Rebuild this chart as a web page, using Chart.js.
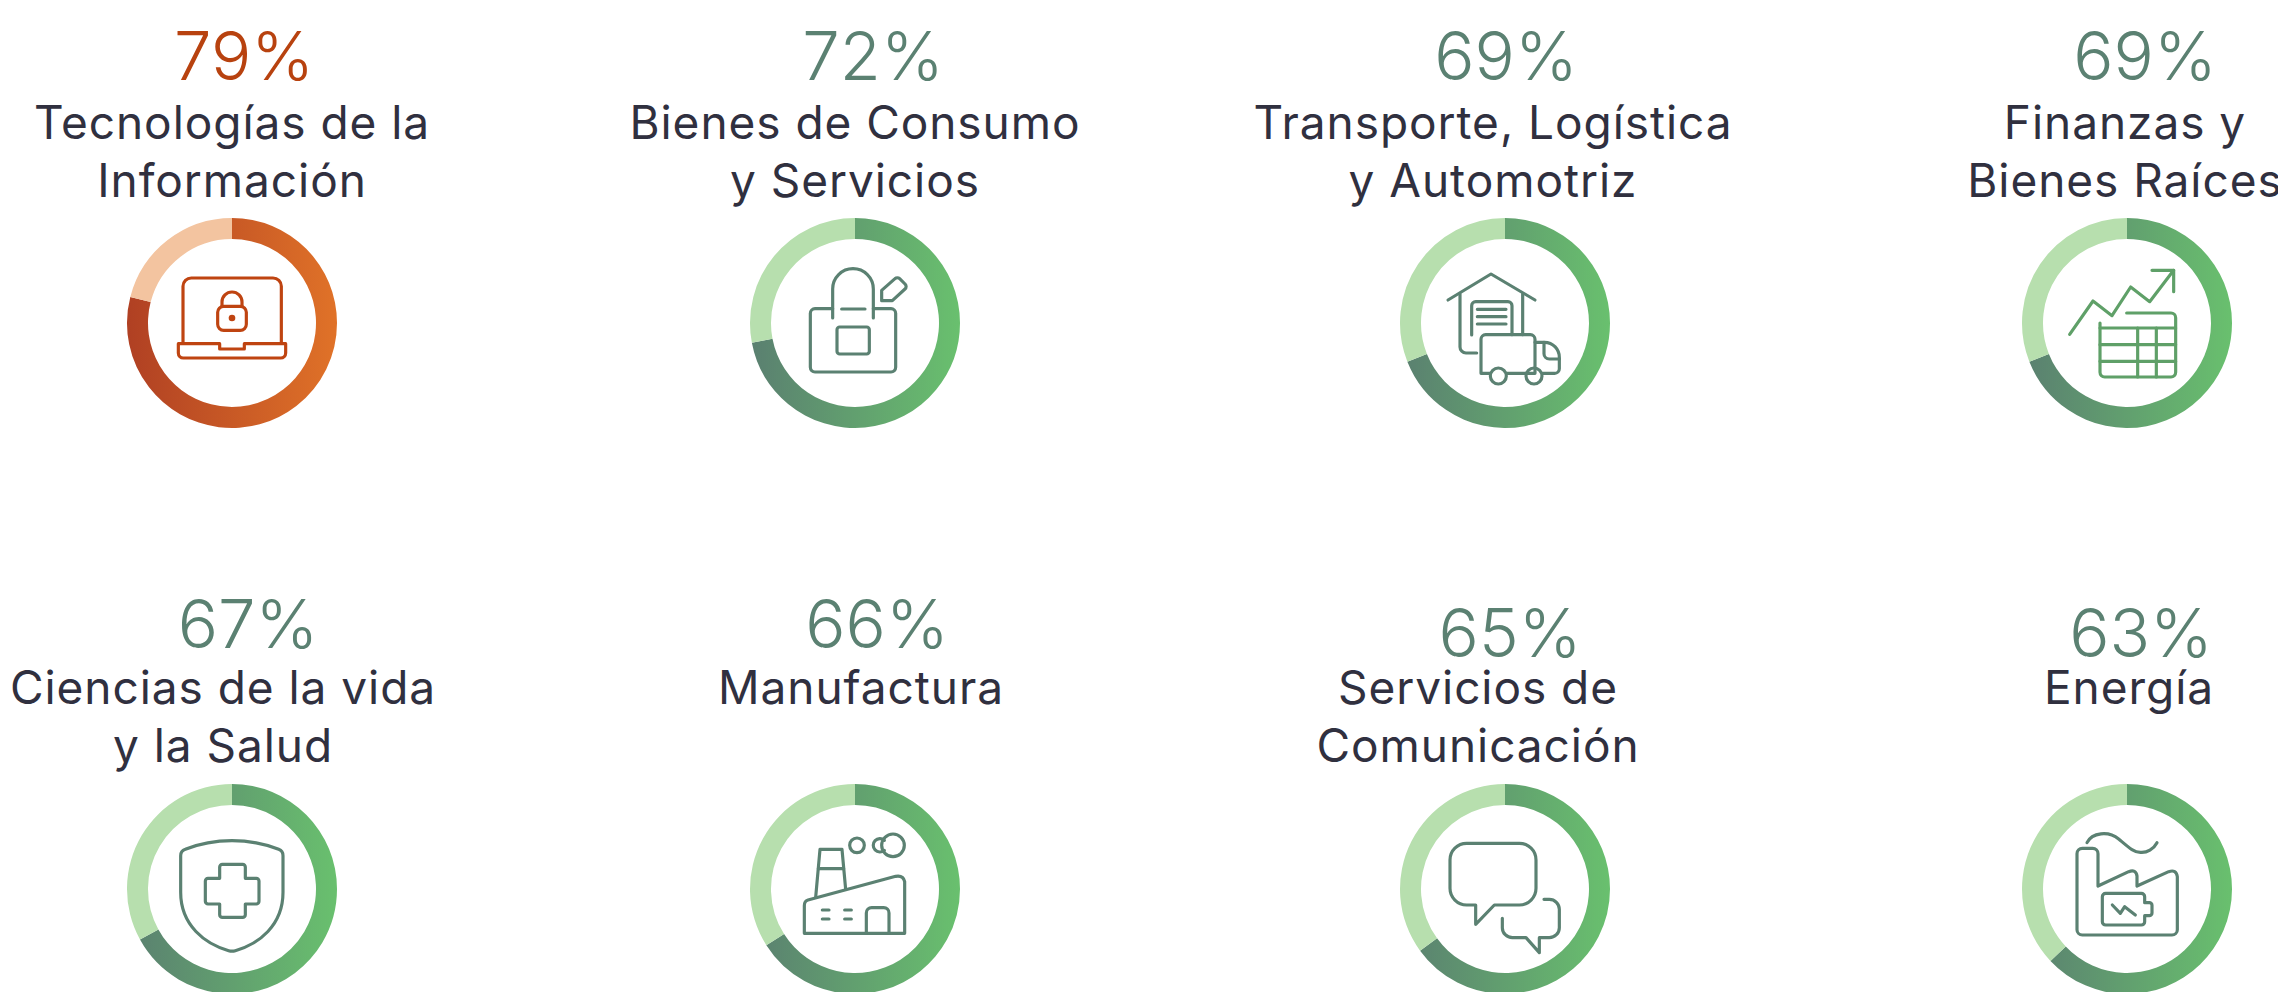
<!DOCTYPE html>
<html lang="es">
<head>
<meta charset="utf-8">
<title>Sectores</title>
<script src="https://cdn.jsdelivr.net/npm/chart.js@4"></script>
<style>
    html, body { margin: 0; padding: 0; background: #fff; }
    #page { position: relative; width: 2278px; height: 992px; overflow: hidden; font-family: Inter, sans-serif; }
    .ring, .icon { position: absolute; width: 220px; height: 220px; }
    .txt { position: absolute; transform: translate(-50%, -50%); white-space: nowrap; line-height: 1; }
    .pct { font-size: 67px; font-weight: 300; letter-spacing: 0; }
    .lbl { font-size: 46px; font-weight: 400; letter-spacing: 0.95px; color: #30303f; }
    .icon path, .icon circle, .icon rect { fill: none; stroke: currentColor; stroke-width: 9.5; stroke-linecap: round; stroke-linejoin: round; }
    .icon .dot { fill: currentColor; stroke: none; }
</style>
</head>
<body>
<div id="page"></div>
<script>
// Data
const categories = [
    ['Tecnologías de la', 'Información'],
    ['Bienes de Consumo', 'y Servicios'],
    ['Transporte, Logística', 'y Automotriz'],
    ['Finanzas y', 'Bienes Raíces'],
    ['Ciencias de la vida', 'y la Salud'],
    ['Manufactura'],
    ['Servicios de', 'Comunicación'],
    ['Energía']
];
const values = [79, 72, 69, 69, 67, 66, 65, 63];

// Layout, all in page pixels
const ringX = [232, 855, 1505, 2127, 232, 855, 1505, 2127];
const ringY = [323, 323, 323, 323, 889, 889, 889, 889];
const pctX = [244, 873, 1506, 2145, 248, 877, 1510, 2141];
const pctY = [55, 55, 55, 55, 623, 623, 632, 632];
const lblX = [232, 855, 1493, 2125, 223, 861, 1478, 2129];
const lblY = [122, 122, 122, 122, 687, 687, 687, 687];
const lineGap = 58;
const outerRadius = 105;

const greenTheme = { left: '#5a7f70', right: '#69c06e', rest: '#b7dfae', text: '#5b8172', icon: '#5b8172' };
const orangeTheme = { left: '#b04023', right: '#e07228', rest: '#f3c4a0', text: '#b8420f', icon: '#bf4411' };

// Icons are plain decoration, drawn around the ring centre at 3x units
const icons = [
    `<path d="M-147 60V-110a25 25 0 0 1 25-25H123a25 25 0 0 1 25 25V60"/>
     <path d="M-161 62H-37V78H37V62H161V90a15 15 0 0 1-15 15H-146a15 15 0 0 1-15-15Z"/>
     <rect x="-43" y="-50" width="86" height="72" rx="18"/>
     <path d="M-30-50V-63a30 30 0 0 1 60 0V-50"/>
     <circle class="dot" cx="0" cy="-15" r="10"/>`,
    `<path d="M-67-43H-120a14 14 0 0 0-14 14V133a14 14 0 0 0 14 14H108a14 14 0 0 0 14-14V-29a14 14 0 0 0-14-14H55"/>
     <path d="M-67-15V-102a61 61 0 0 1 122 0V-15"/>
     <path d="M-40-42H30"/>
     <rect x="-54" y="12" width="97" height="81" rx="8"/>
     <path d="M80-67V-98L120-133a10 10 0 0 1 14 0L150-117a10 10 0 0 1 0 15L112-67Z"/>`,
    `<path d="M-171-69L-42-147L90-69"/>
     <path d="M-135-87V72a18 18 0 0 0 18 18H-85"/>
     <path d="M53-87V35"/>
     <path d="M-100 36V-52a12 12 0 0 1 12-12H9a12 12 0 0 1 12 12V35"/>
     <path d="M-83-41H3M-83-19H3M-83 3H3"/>
     <path d="M-45 151H-72V49a14 14 0 0 1 14-14H76a14 14 0 0 1 14 14V151H63"/>
     <path d="M5 151H63"/>
     <path d="M90 58H118C145 58 163 80 163 103V137a14 14 0 0 1-14 14H113"/>
     <path d="M117 58V92a16 16 0 0 0 16 16H163"/>
     <circle cx="-20" cy="159" r="24"/>
     <circle cx="87" cy="159" r="24"/>`,
    `<path d="M-172 34L-102-66L-45-22L11-108L68-64L140-158"/>
     <path d="M75-158H140V-94"/>
     <path d="M-1-30H132a14 14 0 0 1 14 14V148a14 14 0 0 1-14 14H-67a14 14 0 0 1-14-14V0"/>
     <path d="M-81 15H146M-81 65H146M-81 115H146"/>
     <path d="M32 15V162M88 15V162"/>`,
    `<path d="M0-145C50-145 100-135 140-119Q153-114 153-100V10C153 110 80 165 10 185Q0 188-10 185C-80 165-154 110-154 10V-100Q-154-114-140-119C-100-135-50-145 0-145Z"/>
     <path d="M-37-66a8 8 0 0 1 8-8H32a8 8 0 0 1 8 8V-32H73a8 8 0 0 1 8 8V37a8 8 0 0 1-8 8H40V77a8 8 0 0 1-8 8H-29a8 8 0 0 1-8-8V45H-72a8 8 0 0 1-8-8V-24a8 8 0 0 1 8-8H-37Z"/>`,
    `<path d="M-118 25L-105-119H-39L-28 1"/>
     <path d="M-110-61H-34"/>
     <path d="M-152 133V50Q-152 36-141 33L122-38Q145-42 149-22V133Z"/>
     <path d="M34 133V72a16 16 0 0 1 16-16H86a16 16 0 0 1 16 16V133"/>
     <path d="M-98 63H-78M-31 63H-11M-98 90H-78M-31 90H-11"/>
     <circle cx="6" cy="-131" r="22"/>
     <path d="M88-146a20 20 0 1 0 0 30"/>
     <circle cx="114" cy="-131" r="34"/>`,
    `<path d="M-32 48H43a50 50 0 0 0 50-50V-87a50 50 0 0 0-50-50H-115a50 50 0 0 0-50 50V-2a50 50 0 0 0 50 50H-88V106Z"/>
     <path d="M117 31H133a30 30 0 0 1 30 30V116a30 30 0 0 1-30 30H103V191L63 146H22a30 30 0 0 1-30-30V88"/>`,
    `<path d="M-120-139C-105-170-55-175-25-150C5-125 20-110 40-110C60-108 80-120 90-139"/>
     <path d="M-87-9V-106a16 16 0 0 0-16-16H-134a16 16 0 0 0-16 16V122a16 16 0 0 0 16 16H135a16 16 0 0 0 16-16V-37Q148-60 125-52L30-9V-39Q27-60 5-52Z"/>
     <path d="M53 41V23a10 10 0 0 0-10-10H-64a10 10 0 0 0-10 10V98a10 10 0 0 0 10 10H43a10 10 0 0 0 10-10V80H67a8 8 0 0 0 8-8V49a8 8 0 0 0-8-8Z"/>
     <path d="M-44 48L-20 73L-7 53L25 78"/>`
];

const page = document.getElementById('page');

function addText(className, text, x, y, color) {
    const el = document.createElement('div');
    el.className = 'txt ' + className;
    el.textContent = text;
    el.style.left = x + 'px';
    el.style.top = y + 'px';
    if (color) {
        el.style.color = color;
    }
    page.appendChild(el);
}

function drawRing(i, theme) {
    const canvas = document.createElement('canvas');
    canvas.className = 'ring';
    canvas.width = 220;
    canvas.height = 220;
    canvas.style.left = (ringX[i] - 110) + 'px';
    canvas.style.top = (ringY[i] - 110) + 'px';
    page.appendChild(canvas);

    const gradient = canvas.getContext('2d').createLinearGradient(110 - outerRadius, 0, 110 + outerRadius, 0);
    gradient.addColorStop(0, theme.left);
    gradient.addColorStop(1, theme.right);

    new Chart(canvas, {
        type: 'doughnut',
        data: {
            labels: ['Sí', 'Resto'],
            datasets: [{
                data: [values[i], 100 - values[i]],
                backgroundColor: [gradient, theme.rest],
                borderWidth: 0
            }]
        },
        options: {
            responsive: false,
            animation: false,
            radius: outerRadius,
            cutout: '80%',
            plugins: {
                legend: { display: false },
                tooltip: { enabled: false }
            }
        }
    });
}

function drawIcon(i, theme) {
    const box = document.createElement('div');
    box.className = 'icon';
    box.style.left = (ringX[i] - 110) + 'px';
    box.style.top = (ringY[i] - 110) + 'px';
    box.style.color = theme.icon;
    if (i === 3) {
        box.style.color = '#5fa068';
    }
    box.innerHTML = '<svg width="220" height="220" viewBox="-330 -330 660 660">' + icons[i] + '</svg>';
    page.appendChild(box);
}

categories.forEach(function(lines, i) {
    const theme = i === 0 ? orangeTheme : greenTheme;
    addText('pct', values[i] + '%', pctX[i], pctY[i], theme.text);
    lines.forEach(function(line, n) {
        addText('lbl', line, lblX[i], lblY[i] + n * lineGap);
    });
    drawRing(i, theme);
    drawIcon(i, theme);
});
</script>
</body>
</html>
